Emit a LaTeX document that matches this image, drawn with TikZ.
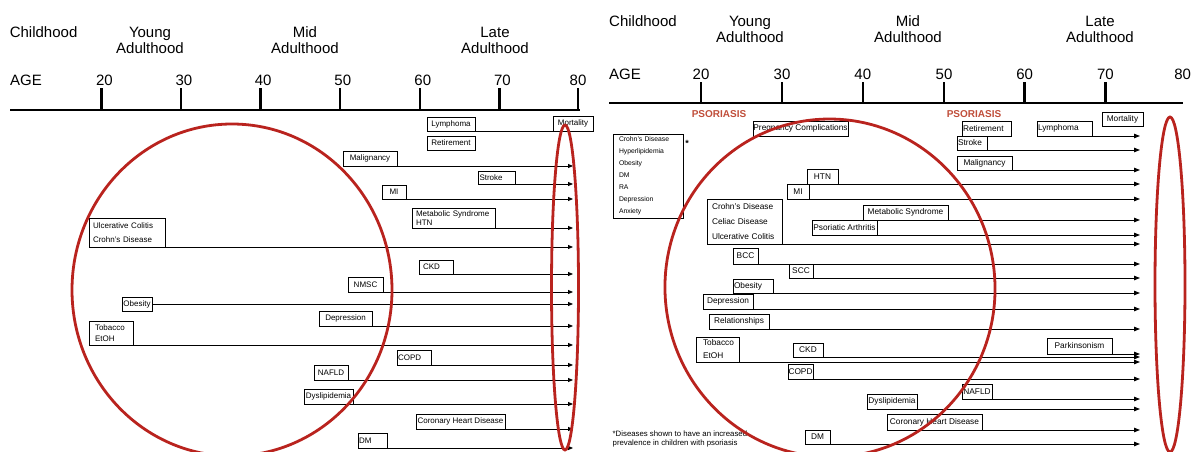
\documentclass[tikz,border=0pt]{standalone}
\usepackage{fontspec}
\setmainfont{Liberation Sans}
\usetikzlibrary{arrows.meta}
\definecolor{cred}{RGB}{185,35,30}
\definecolor{psor}{RGB}{192,78,58}
\newcommand\mkbox[7][]{%
  \pgfmathsetmacro\bcx{(#3+#5)/2}%
  \pgfmathsetmacro\bcy{(#4+#6)/2}%
  \pgfmathsetmacro\bw{#5-#3}%
  \pgfmathsetmacro\bh{#6-#4}%
  \node[bx,minimum width=\bw pt,minimum height=\bh pt,#1] (#2) at (\bcx,\bcy) {#7};}
\newcommand\mkboxl[8][]{%
  \pgfmathsetmacro\bcx{(#4+#6)/2}%
  \pgfmathsetmacro\bcy{(#5+#7)/2}%
  \pgfmathsetmacro\bw{#6-#4}%
  \pgfmathsetmacro\bh{#7-#5}%
  \pgfmathsetmacro\bwl{#6-#4-2*#3}%
  \node[bx,minimum width=\bw pt,minimum height=\bh pt,align=left,text width=\bwl pt,#1] (#2) at (\bcx,\bcy) {#8};}
\newcommand\arl[4][]{\coordinate (#2e) at (#3,#4); \draw[arr,#1] (#2.east |- #2e) -- (#2e);}
\begin{document}
\begin{tikzpicture}[x=1pt,y=-1pt,
  hd/.style={font=\fontsize{15}{16}\selectfont, inner sep=0pt},
  bx/.style={draw, line width=0.8pt, inner sep=0pt, outer sep=0pt, font=\fontsize{8}{9}\selectfont},
  arr/.style={line width=0.8pt, -{Triangle[length=5pt,width=4pt]}},
  ax/.style={line width=2.6pt},
  redl/.style={draw=cred, line width=2.8pt},
]
\useasboundingbox (0,0) rectangle (1197,452);

% ---------------- left panel ----------------
\node[hd,anchor=base] (lchild) at (43.6,37.4) {Childhood};
\node[hd,align=center] (lyoung) at (150,40) {Young\\Adulthood};
\node[hd,align=center] (lmid) at (305,40) {Mid\\Adulthood};
\node[hd,align=center] (llate) at (495,40) {Late\\Adulthood};
\node[hd,anchor=base] (lage) at (26,85.4) {AGE};
\foreach \a/\x in {20/104.4,30/184,40/263.2,50/342.8,60/422.8,70/502.4,80/578}
  \node[hd,anchor=base] (lnum\a) at (\x,85.4) {\a};
\draw[ax] (10,110) -- (580,110);
\foreach \x in {101.4,181,260.2,339.8,419.8,499.4,577.9}
  \draw[ax] (\x,110) -- (\x,88);

\mkbox{lLym}{427}{117}{475}{131}{Lymphoma}
\mkbox{lMort}{553}{116}{593}{131}{Mortality}
\draw[line width=0.8pt] (lLym.south east) -- (lMort.south west);
\mkbox{lRet}{427}{136}{475}{150}{Retirement}
\mkbox{lMal}{343}{151}{397}{166}{Malignancy}
\mkboxl{lStr}{1.5}{478}{171}{515}{184}{Stroke}
\mkbox{lMI}{382}{185}{406}{199}{MI}
\mkboxl[font=\fontsize{8}{9}\selectfont]{lMet}{4}{412}{208}{495}{228}{Metabolic Syndrome\\HTN}
\mkboxl[font=\fontsize{8}{14}\selectfont]{lUC}{4}{89}{218}{165}{247}{Ulcerative Colitis\\Crohn's Disease}
\mkboxl{lCKD}{4}{419}{260}{453}{274}{CKD}
\mkbox{lNM}{348}{277}{383}{292}{NMSC}
\mkbox{lOb}{122}{297}{152}{311}{Obesity}
\mkbox{lDep}{319}{311}{372}{326}{Depression}
\mkboxl[font=\fontsize{8}{11}\selectfont]{lTob}{6}{89}{321}{133}{345}{Tobacco\\EtOH}
\mkboxl{lCOPD}{1}{397}{350}{431}{365}{COPD}
\mkbox{lNAF}{314}{365}{348}{380}{NAFLD}
\mkbox{lDys}{304}{389}{353}{404}{Dyslipidemia}
\mkbox{lCHD}{416}{414}{505}{429}{Coronary Heart Disease}
\mkboxl{lDM}{1}{358}{433}{387}{448}{DM}

\arl{lMal}{573}{166}
\arl{lStr}{573}{184}
\arl{lMI}{573}{199}
\arl{lMet}{573}{228}
\arl{lUC}{573}{247}
\arl{lCKD}{573}{274}
\arl{lNM}{573}{292}
\arl{lOb}{573}{304}
\arl{lDep}{573}{326}
\arl{lTob}{573}{345}
\arl{lCOPD}{573}{365}
\arl{lNAF}{573}{380}
\arl{lDys}{573}{404}
\arl{lCHD}{573}{429}
\arl{lDM}{573}{448}

% ---------------- right panel ----------------
\node[hd,anchor=base] (rchild) at (643,26.4) {Childhood};
\node[hd,align=center] (ryoung) at (750,29) {Young\\Adulthood};
\node[hd,align=center] (rmid) at (908,29) {Mid\\Adulthood};
\node[hd,align=center] (rlate) at (1100,29) {Late\\Adulthood};
\node[hd,anchor=base] (rage) at (625,79.4) {AGE};
\foreach \a/\x in {20/701,30/782,40/862.8,50/944,60/1024.6,70/1105.4,80/1182.6}
  \node[hd,anchor=base] (rnum\a) at (\x,79.4) {\a};
\draw[ax] (609,103) -- (1183,103);
\foreach \x in {701,782,862.8,944,1024.6,1105.4}
  \draw[ax] (\x,103) -- (\x,82);

\node[font=\bfseries\fontsize{10}{12}\selectfont, text=psor, inner sep=0pt] (ps1) at (719,114) {PSORIASIS};
\node[font=\bfseries\fontsize{10}{12}\selectfont, text=psor, inner sep=0pt] (ps2) at (974,114) {PSORIASIS};

\begin{scope}[bx/.append style={line width=1pt, font=\fontsize{8.3}{9}\selectfont},
              arr/.append style={line width=1pt, -{Triangle[length=6pt,width=4.5pt]}}]
\mkbox{rMort}{1102}{112}{1143}{126}{Mortality}
\mkbox{rPreg}{753}{121}{848}{136}{Pregnancy Complications}
\mkboxl{rRet}{1}{962}{121}{1011}{136}{Retirement}
\mkboxl{rLym}{1}{1037}{121}{1092}{136}{Lymphoma}
\mkboxl{rStr}{1}{957}{136}{987}{150}{Stroke}
\mkbox{rMal}{957}{156}{1012}{170}{Malignancy}
\mkbox{rHTN}{807}{169}{838}{184}{HTN}
\mkbox{rMI}{787}{184}{809}{199}{MI}
\mkboxl[font=\fontsize{8.3}{15}\selectfont]{rCr}{5}{707}{199}{782}{244}{Crohn's Disease\\Celiac Disease\\Ulcerative Colitis}
\mkbox{rMet}{863}{205}{948}{220}{Metabolic Syndrome}
\mkbox{rPsA}{812}{220}{877}{235}{Psoriatic Arthritis}
\mkbox{rBCC}{733}{248}{758}{264}{BCC}
\mkbox{rSCC}{789}{264}{813}{278}{SCC}
\mkboxl{rOb}{1}{733}{279}{773}{293}{Obesity}
\mkbox{rDep}{703}{294}{753}{309}{Depression}
\mkbox{rRel}{709}{314}{769}{329}{Relationships}
\mkboxl[font=\fontsize{8.3}{13}\selectfont]{rTob}{7}{696}{337}{739}{362}{Tobacco\\EtOH}
\mkbox{rCKD}{793}{343}{823}{357}{CKD}
\mkbox{rPark}{1047}{338}{1112}{354}{Parkinsonism}
\mkbox{rCOPD}{788}{364}{813}{379}{COPD}
\mkbox{rNAF}{962}{384}{992}{399}{NAFLD}
\mkbox{rDys}{867}{394}{917}{409}{Dyslipidemia}
\mkbox{rCHD}{887}{414}{982}{430}{Coronary Heart Disease}
\mkbox{rDM}{805}{430}{830}{444}{DM}
\mkboxl[font=\fontsize{6.8}{12}\selectfont, line width=0.9pt]{rList}{6}{613}{134}{683}{218}{Crohn's Disease\\Hyperlipidemia\\Obesity\\DM\\RA\\Depression\\Anxiety}

\arl{rLym}{1140}{136}
\arl{rStr}{1140}{150}
\arl{rMal}{1140}{170}
\arl{rHTN}{1140}{184}
\arl{rMI}{1140}{199}
\arl{rMet}{1140}{220}
\arl{rPsA}{1140}{235}
\arl{rCr}{1140}{244}
\arl{rBCC}{1140}{264}
\arl{rSCC}{1140}{278}
\arl{rOb}{1140}{293}
\arl{rDep}{1140}{309}
\arl{rRel}{1140}{329}
\arl{rCKD}{1140}{357}
\arl{rTob}{1140}{362}
\arl{rCOPD}{1140}{379}
\arl{rNAF}{1140}{399}
\arl{rDys}{1140}{409}
\arl{rCHD}{1140}{430}
\arl{rDM}{1140}{444}
\arl{rPark}{1140}{354}
\end{scope}

\node[font=\bfseries\fontsize{9}{10}\selectfont, inner sep=0pt] (star) at (687,143) {*};
\node[font=\fontsize{7.8}{9}\selectfont, align=left, anchor=west, inner sep=0pt] (fn) at (612.5,439) {*Diseases shown to have an increased\\prevalence in children with psoriasis};

% ---------------- red outlines ----------------
\draw[redl] (232,290) ellipse [x radius=160pt, y radius=166pt];
\draw[redl] (565,287.5) ellipse [x radius=13.5pt, y radius=162.5pt];
\draw[redl, rotate around={5:(830,288)}] (830,288) ellipse [x radius=165pt, y radius=169pt];
\draw[redl] (1170,284.5) ellipse [x radius=15pt, y radius=167.5pt];
\end{tikzpicture}
\end{document}
